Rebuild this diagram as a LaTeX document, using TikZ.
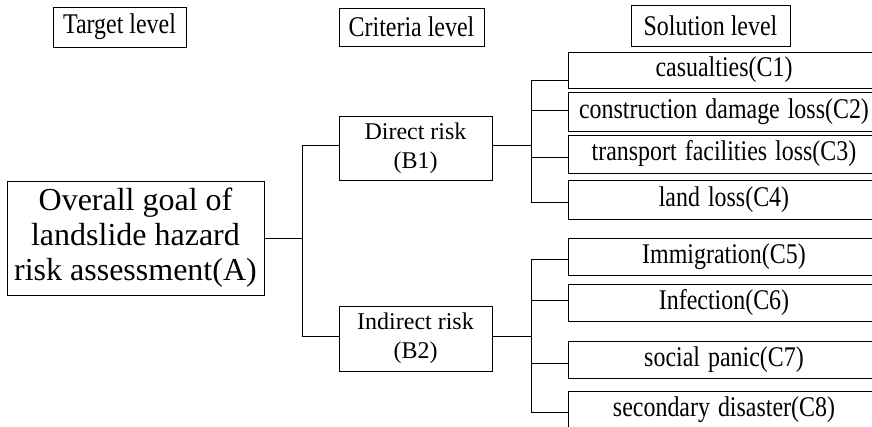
\documentclass[tikz,border=0pt]{standalone}
\usepackage{fontspec}
\usepackage{graphicx}
\setmainfont{Liberation Serif}
\newcommand{\narrowtxt}[1]{\scalebox{0.84}[1]{#1}}
\begin{document}
\begin{tikzpicture}[x=1pt,y=-1pt,
  box/.style={draw, line width=0.8pt, inner sep=0pt, align=center, font=\fontsize{24}{29}\selectfont},
  narrowbox/.style={box, font=\fontsize{28.5}{31}\selectfont},
  sol/.style={narrowbox, minimum width=312pt, text width=312pt},
  link/.style={line width=0.8pt}]
\clip (0,0) rectangle (872,427);
% headers
\node[narrowbox, minimum width=133pt, minimum height=40pt] (t1) at (119.5,27) {\narrowtxt{Target level}};
\node[narrowbox, minimum width=145pt, minimum height=38pt] (t2) at (411.5,27) {\narrowtxt{Criteria level}};
\node[narrowbox, minimum width=159pt, minimum height=41pt] (t3) at (710.5,25.5) {\narrowtxt{Solution level}};
% goal
\node[box, minimum width=257pt, minimum height=114pt, font=\fontsize{32}{35}\selectfont] (A) at (135.5,238)
  {Overall goal of\\landslide hazard\\risk assessment(A)};
% criteria
\node[box, minimum width=153pt, minimum height=64pt] (B1) at (415.5,148) {Direct risk\\(B1)};
\node[box, minimum width=153pt, minimum height=65pt] (B2) at (415.5,338.5) {Indirect risk\\(B2)};
% solutions (right edges run off the picture)
\node[sol, minimum height=36pt] (C1) at (724,70) {\narrowtxt{casualties(C1)}\hspace*{8pt}};
\node[sol, minimum height=39pt] (C2) at (724,111.5) {\narrowtxt{construction damage loss(C2)}\hspace*{8pt}};
\node[sol, minimum height=38pt] (C3) at (724,154) {\narrowtxt{transport facilities loss(C3)}\hspace*{8pt}};
\node[sol, minimum height=39pt] (C4) at (724,199.5) {\narrowtxt{land loss(C4)}\hspace*{8pt}};
\node[sol, minimum height=37pt] (C5) at (724,256.5) {\narrowtxt{Immigration(C5)}\hspace*{8pt}};
\node[sol, minimum height=37pt] (C6) at (724,302.5) {\narrowtxt{Infection(C6)}\hspace*{8pt}};
\node[sol, minimum height=37pt] (C7) at (724,359.5) {\narrowtxt{social panic(C7)}\hspace*{8pt}};
\node[sol, minimum height=38pt] (C8) at (724,410) {\narrowtxt{secondary disaster(C8)}\hspace*{8pt}};
% bus coordinates
\coordinate (ja) at (302,239);
\coordinate (jb) at (531,145);
\coordinate (jc) at (531,336);
% connectors A -> B
\draw[link] (A.east) -- (A.east -| ja);
\draw[link] ([yshift=3pt]B1.west) -- ([yshift=3pt]B1.west -| ja) -- ([yshift=2.5pt]B2.west -| ja) -- ([yshift=2.5pt]B2.west);
% connectors B1 -> C1..C4
\draw[link] ([yshift=3pt]B1.east) -- (jb);
\draw[link] ([yshift=-10pt]C1.west) -- ([yshift=-10pt]C1.west -| jb) -- ([yshift=-2.5pt]C4.west -| jb) -- ([yshift=-2.5pt]C4.west);
\draw[link] ([yshift=1.5pt]C2.west) -- ([yshift=1.5pt]C2.west -| jb);
\draw[link] ([yshift=-3pt]C3.west) -- ([yshift=-3pt]C3.west -| jb);
% connectors B2 -> C5..C8
\draw[link] ([yshift=2.5pt]B2.east) -- (jc);
\draw[link] ([yshift=-2.5pt]C5.west) -- ([yshift=-2.5pt]C5.west -| jc) -- ([yshift=-2pt]C8.west -| jc) -- ([yshift=-2pt]C8.west);
\draw[link] ([yshift=2.5pt]C6.west) -- ([yshift=2.5pt]C6.west -| jc);
\draw[link] ([yshift=-3.5pt]C7.west) -- ([yshift=-3.5pt]C7.west -| jc);
\end{tikzpicture}
\end{document}
